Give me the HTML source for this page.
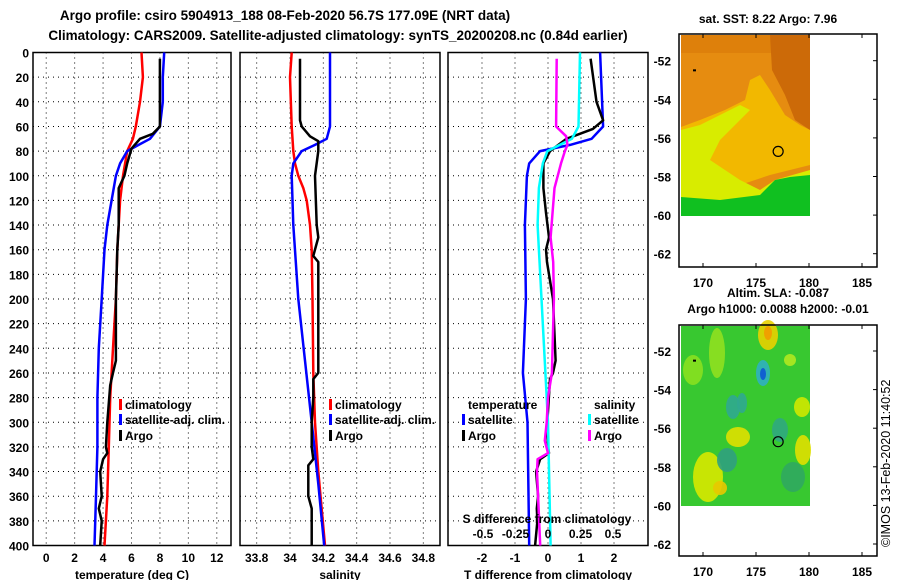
<!DOCTYPE html>
<html><head><meta charset="utf-8"><style>
body{margin:0;background:#fff}
svg{display:block;font-family:"Liberation Sans",Arial,sans-serif;font-weight:bold}
</style></head><body>
<svg id="s" width="900" height="580" viewBox="0 0 900 580">
<text x="285" y="20" font-size="13.5" text-anchor="middle">Argo profile: csiro 5904913_188 08-Feb-2020 56.7S 177.09E (NRT data)</text>
<text x="338" y="40" font-size="13.5" text-anchor="middle">Climatology: CARS2009. Satellite-adjusted climatology: synTS_20200208.nc (0.84d earlier)</text>
<text x="768" y="23" font-size="12" text-anchor="middle">sat. SST: 8.22 Argo: 7.96</text>
<text x="778" y="297" font-size="12" text-anchor="middle">Altim. SLA: -0.087</text>
<text x="778" y="313" font-size="12" text-anchor="middle">Argo h1000: 0.0088 h2000: -0.01</text>
<text transform="translate(890,547) rotate(-90)" font-size="12.5" font-weight="normal">©IMOS 13-Feb-2020 11:40:52</text>
<g id="g"></g>
</svg>
<script>
// ---- data ----
const depthTicks=[0,20,40,60,80,100,120,140,160,180,200,220,240,260,280,300,320,340,360,380,400];
const tempTicks=[0,2,4,6,8,10,12];
const salTicks=[33.8,34,34.2,34.4,34.6,34.8];
const tdiffTicks=[-2,-1,0,1,2];
const sdiffTicks=[-0.5,-0.25,0,0.25,0.5];
const lonTicks=[170,175,180,185];
const latTicks=[-52,-54,-56,-58,-60,-62];

const climTD=[0,20,40,60,70,80,100,120,140,160,200,240,280,320,360,400];
const climT=[6.7,6.8,6.6,6.3,6.1,5.7,5.4,5.2,5.1,5.0,4.9,4.7,4.5,4.4,4.3,4.1];
const satTD=[0,20,40,60,70,75,80,90,100,120,140,160,200,240,280,320,360,400];
const satT=[8.3,8.2,8.2,8.0,7.3,6.5,5.7,5.2,4.9,4.6,4.3,4.1,3.9,3.7,3.6,3.6,3.5,3.4];
const argoTD=[5,20,60,66,70,78,90,100,110,140,160,200,250,260,270,300,320,325,330,340,360,370,380,400];
const argoT=[8.0,8.0,8.0,7.5,6.6,6.0,5.7,5.5,5.1,5.1,5.0,4.9,4.9,4.7,4.5,4.3,4.2,4.3,4.0,3.8,3.9,3.7,3.9,3.8];

const climSD=[0,20,60,80,90,100,110,120,140,160,200,260,300,340,400];
const climS=[34.01,34.0,34.01,34.02,34.03,34.05,34.08,34.10,34.12,34.13,34.135,34.14,34.15,34.17,34.21];
const satSD=[0,60,70,75,80,90,100,140,200,250,300,350,400];
const satS=[34.24,34.24,34.22,34.15,34.07,34.02,34.01,34.02,34.05,34.09,34.13,34.17,34.205];
const argoSD=[5,55,60,68,72,80,100,140,150,165,170,200,260,265,280,300,320,330,335,360,370,400];
const argoS=[34.06,34.06,34.07,34.12,34.17,34.17,34.15,34.16,34.17,34.14,34.17,34.17,34.17,34.14,34.14,34.13,34.13,34.14,34.11,34.11,34.13,34.13];

const dSatTD=[0,60,70,75,80,90,100,140,200,260,300,400];
const dSatT=[1.58,1.67,1.32,0.67,-0.24,-0.57,-0.64,-0.7,-0.67,-0.76,-0.62,-0.57];
const dArgoTD=[5,40,55,62,70,80,90,110,130,150,160,170,200,250,260,265,300,320,325,330,340,360,370,380,400];
const dArgoT=[1.29,1.47,1.67,1.36,0.56,0.06,-0.14,-0.14,-0.06,0.03,-0.06,-0.03,0.15,0.23,0.15,0.06,-0.02,0.0,0.03,-0.24,-0.36,-0.3,-0.34,-0.32,-0.39];
const dSatSD=[0,60,70,80,90,110,140,200,260,300,350,400];
const dSatS=[0.246,0.235,0.184,-0.005,-0.04,-0.07,-0.08,-0.05,-0.02,0.0,0.01,0.02];
const dArgoSD=[5,60,68,75,80,90,110,150,170,200,260,280,300,315,325,330,340,400];
const dArgoS=[0.067,0.062,0.14,0.15,0.13,0.1,0.05,0.02,0.04,0.045,0.03,0.0,-0.01,-0.025,0.0,-0.08,-0.085,-0.06];

const NS='http://www.w3.org/2000/svg';
const G=document.getElementById('g');
function el(tag,attrs,parent){const e=document.createElementNS(NS,tag);for(const k in attrs)e.setAttribute(k,attrs[k]);(parent||G).appendChild(e);return e;}
function txt(x,y,s,size,anchor,parent){const t=el('text',{x:x,y:y,'font-size':size,'text-anchor':anchor||'middle'},parent);t.textContent=s;return t;}

const Y0=52.5,Y1=545.5;
const yD=d=>Y0+(d/400)*(Y1-Y0);

function panel(name,x0,x1,vmin,vmax,ticks,fmt,title){
  const g=el('g',{});
  
  
  const sx=v=>x0+(v-vmin)/(vmax-vmin)*(x1-x0);
  depthTicks.forEach(d=>{const l=el('line',{x1:x0,x2:x1,y1:yD(d),y2:yD(d),stroke:'#000','stroke-width':1,'stroke-dasharray':'1,4'},g);
    });
  if(ticks)ticks.forEach(v=>{const l=el('line',{x1:sx(v),x2:sx(v),y1:Y0,y2:Y1,stroke:'#000','stroke-width':1,'stroke-dasharray':'1,4'},g);
    
    const t=txt(sx(v),562,fmt(v),12,'middle',g);});
  const r=el('rect',{x:x0,y:Y0,width:x1-x0,height:Y1-Y0,fill:'none',stroke:'#000','stroke-width':1.5},g);
  
  if(title){const t=txt((x0+x1)/2,579,title,12,'middle',g);}
  return {g,sx};
}
function line(p,sx,ds,vs,color,name){
  const pts=ds.map((d,i)=>sx(vs[i]).toFixed(1)+','+yD(d).toFixed(1)).join(' ');
  const l=el('polyline',{points:pts,fill:'none',stroke:color,'stroke-width':2.5,'stroke-linejoin':'round'},p.g);
  
  
}
function legend(g,x,y,label,color,name){
  const m=el('rect',{x:x-6,y:y-10,width:3,height:11,fill:color},g);
  
  const t=txt(x,y,label,12,'start',g);
  
}

depthTicks.forEach(d=>{const t=txt(29,yD(d)+5,String(d),12,'end');
  });

const LY=[409,424,440];
// panel 1
const p1=panel('temperature-panel',33,231,-0.93,13.0,tempTicks,String,'temperature (deg C)');
line(p1,p1.sx,climTD,climT,'#f00','climatology-temp-line');
line(p1,p1.sx,satTD,satT,'#00f','satellite-temp-line');
line(p1,p1.sx,argoTD,argoT,'#000','argo-temp-line');
legend(p1.g,125,LY[0],'climatology','#f00','legend-climatology');
legend(p1.g,125,LY[1],'satellite-adj. clim.','#00f','legend-satellite');
legend(p1.g,125,LY[2],'Argo','#000','legend-argo');

// panel 2
const p2=panel('salinity-panel',240,440,33.70,34.90,salTicks,String,'salinity');
line(p2,p2.sx,climSD,climS,'#f00','climatology-sal-line');
line(p2,p2.sx,satSD,satS,'#00f','satellite-sal-line');
line(p2,p2.sx,argoSD,argoS,'#000','argo-sal-line');
legend(p2.g,335,LY[0],'climatology','#f00','legend-climatology-sal');
legend(p2.g,335,LY[1],'satellite-adj. clim.','#00f','legend-satellite-sal');
legend(p2.g,335,LY[2],'Argo','#000','legend-argo-sal');

// panel 3
const p3=panel('difference-panel',448,648,-3.03,3.03,tdiffTicks,String,'T difference from climatology');
const sxS=v=>548+v*130;
line(p3,p3.sx,dSatTD,dSatT,'#00f','satellite-tdiff-line');
line(p3,p3.sx,dArgoTD,dArgoT,'#000','argo-tdiff-line');
line(p3,sxS,dSatSD,dSatS,'#0ff','satellite-sdiff-line');
line(p3,sxS,dArgoSD,dArgoS,'#f0f','argo-sdiff-line');
{const t=txt(468,LY[0],'temperature',12,'start',p3.g);}
{const t=txt(594,LY[0],'salinity',12,'start',p3.g);}
legend(p3.g,468,LY[1],'satellite','#00f','legend-t-satellite');
legend(p3.g,468,LY[2],'Argo','#000','legend-t-argo');
legend(p3.g,594,LY[1],'satellite','#0ff','legend-s-satellite');
legend(p3.g,594,LY[2],'Argo','#f0f','legend-s-argo');
{const t=txt(547,523,'S difference from climatology',12,'middle',p3.g);}
sdiffTicks.forEach(v=>{const t=txt(sxS(v),538,String(v),12,'middle',p3.g);});

// maps
function map(name,top,bottom,latTop,imgBottom,kind){
  const g=el('g',{});
  
  const L=679,R=877;
  const sx=lon=>703+(lon-170)*10.6;
  const sy=lat=>latTop+(-52-lat)*19.3;
  const iL=681,iR=810,iT=top+1,iB=imgBottom;
  if(kind==='sst'){
    el('rect',{x:iL,y:iT,width:iR-iL,height:iB-iT,fill:'#e68c10'},g);
    el('rect',{x:iL,y:iT,width:iR-iL,height:18,fill:'#d87808',opacity:0.6},g);
    el('polygon',{points:'770,35 810,35 810,130 795,120 785,95 772,70',fill:'#cc6a08'},g);
    el('polygon',{points:'681,127 700,120 725,110 745,100 750,80 760,75 770,90 785,115 800,125 810,130 810,165 790,170 770,175 740,185 681,185',fill:'#f2b800'},g);
    el('polygon',{points:'681,130 700,125 740,105 750,110 720,140 710,160 740,180 760,190 775,180 810,170 810,215 681,215',fill:'#d8ec00'},g);
    el('polygon',{points:'681,197 720,200 760,195 775,180 790,177 810,175 810,216 681,216',fill:'#10c020'},g);
  } else {
    el('rect',{x:iL,y:iT,width:iR-iL,height:iB-iT,fill:'#38c830'},g);
    [[717,353,8,25,'#90e020'],[693,370,10,15,'#88e020'],[768,335,10,15,'#e8d000'],[790,360,6,6,'#b0e820'],[738,437,12,10,'#e0e000'],[708,477,15,25,'#d8e800'],[720,488,7,7,'#e8c800'],[803,450,8,15,'#e0e000'],[802,407,8,10,'#d0e800']].forEach(b=>el('ellipse',{cx:b[0],cy:b[1],rx:b[2],ry:b[3],fill:b[4],opacity:0.9},g));
    el('ellipse',{cx:768,cy:333,rx:4,ry:7,fill:'#f0a000'},g);
    [[763,373,7,13,'#30b0c0'],[733,407,7,12,'#30a890'],[742,403,5,10,'#30a890'],[727,460,10,12,'#30a080'],[780,430,8,12,'#30a880'],[793,477,12,15,'#30a860']].forEach(b=>el('ellipse',{cx:b[0],cy:b[1],rx:b[2],ry:b[3],fill:b[4],opacity:0.9},g));
    el('ellipse',{cx:763,cy:374,rx:3,ry:6,fill:'#1060d0'},g);
  }
  el('rect',{x:693,y:sy(-52.5)-1,width:3,height:2,fill:'#000'},g);
  const c=el('circle',{cx:sx(177.09),cy:sy(-56.7),r:5,fill:'none',stroke:'#000','stroke-width':1.2},g);
  
  const fr=el('rect',{x:L,y:top,width:R-L,height:bottom-top,fill:'none',stroke:'#000','stroke-width':1.5},g);
  
  lonTicks.forEach(v=>{el('line',{x1:sx(v),x2:sx(v),y1:top,y2:top+4,stroke:'#000'},g);el('line',{x1:sx(v),x2:sx(v),y1:bottom,y2:bottom-4,stroke:'#000'},g);
    const t=txt(sx(v),bottom+20,String(v),12,'middle',g);});
  latTicks.forEach(v=>{el('line',{x1:R,x2:R-4,y1:sy(v),y2:sy(v),stroke:'#000'},g);
    const t=txt(671,sy(v)+5,String(v),12,'end',g);});
}
map('sst-map',34,267,60.7,216,'sst');
map('sla-map',325,556,351,506,'sla');
</script>
</body></html>
